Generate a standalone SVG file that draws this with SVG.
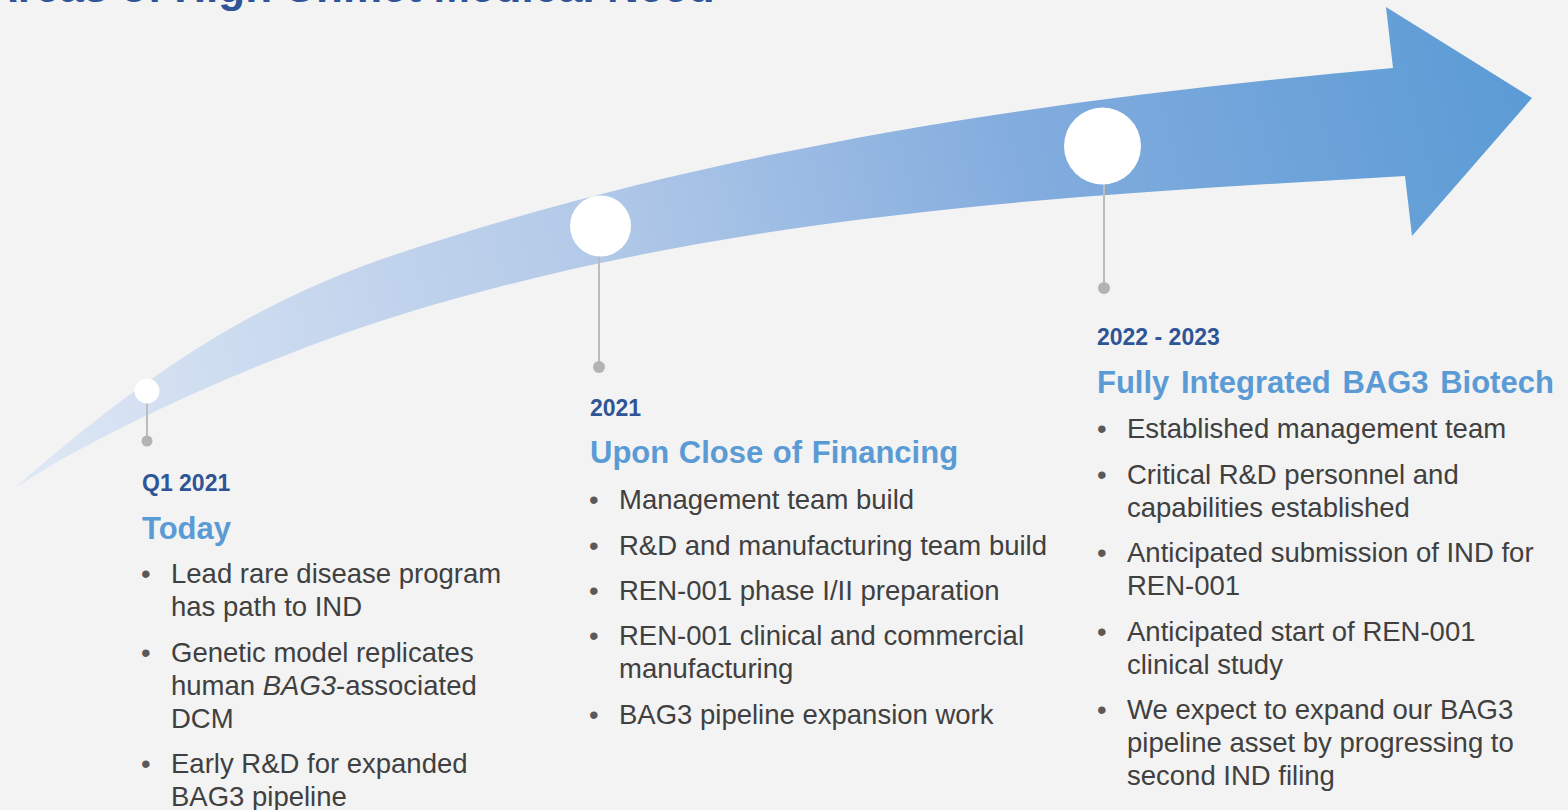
<svg xmlns="http://www.w3.org/2000/svg" width="1568" height="810" viewBox="0 0 1568 810">
  <style>
    .title { font-family: "Liberation Sans", Arial, sans-serif; font-weight: bold; font-size: 44px; fill: #2f5597; }
    .year { font-family: "Liberation Sans", Arial, sans-serif; font-weight: bold; font-size: 23px; fill: #2f5597; }
    .head { font-family: "Liberation Sans", Arial, sans-serif; font-weight: bold; font-size: 31px; fill: #5b9bd5; }
    .body { font-family: "Liberation Sans", Arial, sans-serif; font-size: 27.5px; fill: #404040; }
    .bul { font-family: "Liberation Sans", Arial, sans-serif; font-size: 27.5px; fill: #595959; }
    .stem { stroke: #bcbcbc; stroke-width: 2; fill: none; }
    .dot { fill: #b3b3b3; }
    .ms { fill: #ffffff; }
  </style>
  <defs>
    <linearGradient id="bandGrad" gradientUnits="userSpaceOnUse" x1="15" y1="488" x2="1532" y2="100">
      <stop offset="0" stop-color="#dfe8f5"/>
      <stop offset="0.4" stop-color="#b2c9e8"/>
      <stop offset="0.68" stop-color="#82acde"/>
      <stop offset="1" stop-color="#5b9bd5"/>
    </linearGradient>
  </defs>
  <rect x="0" y="0" width="1568" height="810" fill="#f3f3f3"/>
  <text class="title" x="-14" y="2">Areas of High Unmet Medical Need</text>

  <path id="timeline-arrow" fill="url(#bandGrad)" d="M15,488 C160,360 270,296 400,253 C730,144 1063,98 1393,68 L1386,7 L1532,98 L1412,236 L1405,176 C1075,195 730,213 400,315 C270,355 105,428 15,488 Z"/>

  <g id="connectors">
    <line class="stem" x1="147" y1="403" x2="147" y2="441"/>
    <line class="stem" x1="599" y1="255" x2="599" y2="367"/>
    <line class="stem" x1="1104" y1="184" x2="1104" y2="288"/>
    <circle class="dot" cx="147" cy="441" r="5.5"/>
    <circle class="dot" cx="599" cy="367" r="6"/>
    <circle class="dot" cx="1104" cy="288" r="6"/>
  </g>

  <g id="milestone-q1-2021">
    <circle class="ms" cx="147" cy="391" r="12.5"/>
    <text class="year" x="142" y="491">Q1 2021</text>
    <text class="head" x="142" y="539">Today</text>
    <text class="bul" x="141" y="583">•</text>
    <text class="body" x="171" y="583">Lead rare disease program</text>
    <text class="body" x="171" y="616">has path to IND</text>
    <text class="bul" x="141" y="662">•</text>
    <text class="body" x="171" y="662">Genetic model replicates</text>
    <text class="body" x="171" y="695">human <tspan font-style="italic">BAG3</tspan>-associated</text>
    <text class="body" x="171" y="728">DCM</text>
    <text class="bul" x="141" y="773">•</text>
    <text class="body" x="171" y="773">Early R&amp;D for expanded</text>
    <text class="body" x="171" y="806">BAG3 pipeline</text>
  </g>

  <g id="milestone-2021">
    <circle class="ms" cx="600.5" cy="226" r="30.5"/>
    <text class="year" x="590" y="416">2021</text>
    <text class="head" x="590" y="463" word-spacing="1">Upon Close of Financing</text>
    <text class="bul" x="589" y="509">•</text>
    <text class="body" x="619" y="509">Management team build</text>
    <text class="bul" x="589" y="555">•</text>
    <text class="body" x="619" y="555">R&amp;D and manufacturing team build</text>
    <text class="bul" x="589" y="600">•</text>
    <text class="body" x="619" y="600">REN-001 phase I/II preparation</text>
    <text class="bul" x="589" y="645">•</text>
    <text class="body" x="619" y="645">REN-001 clinical and commercial</text>
    <text class="body" x="619" y="678">manufacturing</text>
    <text class="bul" x="589" y="724">•</text>
    <text class="body" x="619" y="724">BAG3 pipeline expansion work</text>
  </g>

  <g id="milestone-2022-2023">
    <circle class="ms" cx="1102.5" cy="146" r="38.5"/>
    <text class="year" x="1097" y="345">2022 - 2023</text>
    <text class="head" x="1097" y="393" word-spacing="3">Fully Integrated BAG3 Biotech</text>
    <text class="bul" x="1097" y="438">•</text>
    <text class="body" x="1127" y="438">Established management team</text>
    <text class="bul" x="1097" y="484">•</text>
    <text class="body" x="1127" y="484">Critical R&amp;D personnel and</text>
    <text class="body" x="1127" y="517">capabilities established</text>
    <text class="bul" x="1097" y="562">•</text>
    <text class="body" x="1127" y="562">Anticipated submission of IND for</text>
    <text class="body" x="1127" y="595">REN-001</text>
    <text class="bul" x="1097" y="641">•</text>
    <text class="body" x="1127" y="641">Anticipated start of REN-001</text>
    <text class="body" x="1127" y="674">clinical study</text>
    <text class="bul" x="1097" y="719">•</text>
    <text class="body" x="1127" y="719">We expect to expand our BAG3</text>
    <text class="body" x="1127" y="752">pipeline asset by progressing to</text>
    <text class="body" x="1127" y="785">second IND filing</text>
  </g>
</svg>
